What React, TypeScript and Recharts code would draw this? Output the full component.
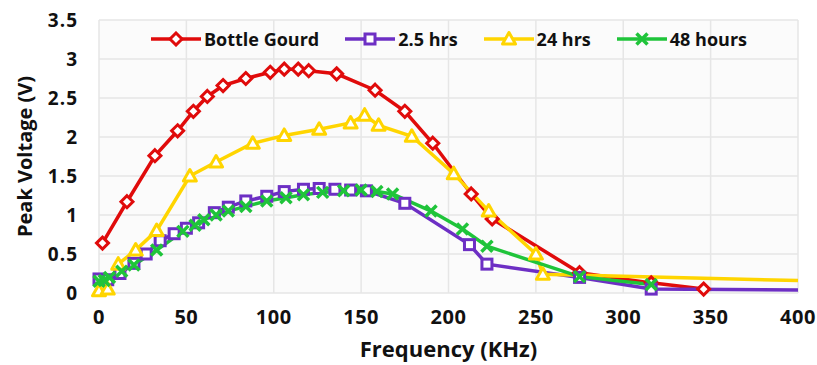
import {
  CartesianGrid,
  Label,
  Legend,
  Line,
  LineChart,
  XAxis,
  YAxis,
} from "recharts";

// frequency (KHz) and peak voltage (V)
const GOURD_FREQ = [2, 16, 32, 45, 54, 62, 71, 84, 98, 106, 114, 120, 136, 158, 175, 191, 213, 225, 275, 316, 346];
const GOURD_VOLT = [0.64, 1.17, 1.76, 2.08, 2.33, 2.52, 2.66, 2.75, 2.83, 2.87, 2.87, 2.85, 2.81, 2.6, 2.33, 1.92, 1.27, 0.95, 0.26, 0.13, 0.05];

const HRS25_FREQ = [0, 5, 12, 20, 27, 35, 43, 50, 57, 66, 74, 84, 96, 106, 117, 126, 135, 144, 153, 175, 212, 222, 275, 316, 400];
const HRS25_VOLT = [0.18, 0.17, 0.25, 0.38, 0.5, 0.67, 0.76, 0.83, 0.9, 1.03, 1.1, 1.18, 1.24, 1.3, 1.33, 1.34, 1.33, 1.32, 1.31, 1.15, 0.62, 0.37, 0.2, 0.05, 0.04];

const HRS24_FREQ = [0, 5, 11, 21, 33, 52, 67, 88, 106, 126, 144, 152, 160, 179, 203, 223, 250, 254, 400];
const HRS24_VOLT = [0.03, 0.05, 0.37, 0.55, 0.8, 1.5, 1.68, 1.92, 2.02, 2.1, 2.18, 2.28, 2.15, 2.01, 1.53, 1.05, 0.5, 0.24, 0.16];

const HRS48_FREQ = [0, 3, 6, 13, 20, 33, 48, 55, 60, 67, 74, 84, 96, 107, 117, 128, 140, 150, 159, 168, 190, 208, 222, 275, 316];
const HRS48_VOLT = [0.15, 0.16, 0.2, 0.28, 0.36, 0.55, 0.79, 0.87, 0.94, 1.0, 1.05, 1.11, 1.18, 1.22, 1.26, 1.29, 1.31, 1.32, 1.3, 1.27, 1.05, 0.82, 0.6, 0.21, 0.11];

const X_TICKS = [0, 50, 100, 150, 200, 250, 300, 350, 400];
const Y_TICKS = [0, 0.5, 1, 1.5, 2, 2.5, 3, 3.5];

const toPoints = (xs: number[], ys: number[]) => xs.map((x, i) => ({ x, y: ys[i] }));

// lastMarker: the excel lines that run out to 400 have no marker at their end
const SERIES = [
  { name: "Bottle Gourd", color: "#e00b0b", shape: "diamond", lastMarker: true, data: toPoints(GOURD_FREQ, GOURD_VOLT) },
  { name: "2.5 hrs", color: "#6d2fc4", shape: "square", lastMarker: false, data: toPoints(HRS25_FREQ, HRS25_VOLT) },
  { name: "24 hrs", color: "#ffd500", shape: "triangle", lastMarker: false, data: toPoints(HRS24_FREQ, HRS24_VOLT) },
  { name: "48 hours", color: "#1fc43a", shape: "cross", lastMarker: true, data: toPoints(HRS48_FREQ, HRS48_VOLT) },
];

const FONT = "'Open Sans', sans-serif";

function Marker({ shape, color, cx, cy }: { shape: string; color: string; cx: number; cy: number }) {
  if (shape === "diamond") {
    return (
      <path
        d={`M${cx},${cy - 6} L${cx + 6},${cy} L${cx},${cy + 6} L${cx - 6},${cy} Z`}
        fill="#fff"
        stroke={color}
        strokeWidth={3}
      />
    );
  }
  if (shape === "square") {
    return <rect x={cx - 5} y={cy - 5} width={10} height={10} fill="#fff" stroke={color} strokeWidth={3} />;
  }
  if (shape === "triangle") {
    return (
      <path
        d={`M${cx},${cy - 6.5} L${cx + 6.5},${cy + 5} L${cx - 6.5},${cy + 5} Z`}
        fill="#fff"
        stroke={color}
        strokeWidth={3}
        strokeLinejoin="round"
      />
    );
  }
  return (
    <path
      d={`M${cx - 5.5},${cy - 5.5} L${cx + 5.5},${cy + 5.5} M${cx + 5.5},${cy - 5.5} L${cx - 5.5},${cy + 5.5}`}
      stroke={color}
      strokeWidth={3.5}
    />
  );
}

const makeDot = (shape: string, color: string, count: number, lastMarker: boolean) => (props: any) => {
  const { cx, cy, index } = props;
  const key = `${shape}-${index}`;
  if (cx == null || cy == null) return <g key={key} />;
  if (!lastMarker && index === count - 1) return <g key={key} />;
  return (
    <g key={key}>
      <Marker shape={shape} color={color} cx={cx} cy={cy} />
    </g>
  );
};

function LegendRow() {
  return (
    <div style={{ display: "flex", alignItems: "center", fontFamily: FONT, fontWeight: 700, fontSize: 18, color: "#111" }}>
      {SERIES.map((s) => (
        <div key={s.name} style={{ display: "flex", alignItems: "center", marginRight: 26 }}>
          <svg width={50} height={16}>
            <line x1={0} y1={8} x2={50} y2={8} stroke={s.color} strokeWidth={3.5} />
            <Marker shape={s.shape} color={s.color} cx={25} cy={8} />
          </svg>
          <span style={{ marginLeft: 3 }}>{s.name}</span>
        </div>
      ))}
    </div>
  );
}

export default function App() {
  return (
    <div style={{ position: "absolute", left: 0, top: 0, background: "#fff" }}>
      <LineChart width={817} height={365} margin={{ top: 20, right: 19, left: 0, bottom: 0 }}>
        <CartesianGrid stroke="#e6e6e6" strokeWidth={1.5} fill="#fbfbfb" />
        <XAxis
          type="number"
          dataKey="x"
          domain={[0, 400]}
          ticks={X_TICKS}
          axisLine={false}
          tickLine={false}
          tickSize={0}
          tickMargin={17}
          height={72}
          tick={{ fontSize: 20, fontWeight: 700, fill: "#111", fontFamily: FONT, letterSpacing: 0.5 }}
        >
          <Label
            value="Frequency (KHz)"
            position="insideBottom"
            offset={8}
            style={{ fontSize: 22, fontWeight: 700, fill: "#111", fontFamily: FONT }}
          />
        </XAxis>
        <YAxis
          type="number"
          dataKey="y"
          domain={[0, 3.5]}
          ticks={Y_TICKS}
          axisLine={false}
          tickLine={false}
          tickSize={0}
          tickMargin={21}
          width={99}
          tick={{ fontSize: 19, fontWeight: 700, fill: "#111", fontFamily: FONT, letterSpacing: 1 }}
        >
          <Label
            content={({ viewBox }: any) => (
              <text
                x={24}
                y={viewBox.y + viewBox.height / 2}
                transform={`rotate(-90 24 ${viewBox.y + viewBox.height / 2})`}
                textAnchor="middle"
                dominantBaseline="central"
                style={{ fontSize: 20, fontWeight: 700, fill: "#111", fontFamily: FONT }}
              >
                Peak Voltage (V)
              </text>
            )}
          />
        </YAxis>
        <Legend
          layout="horizontal"
          verticalAlign="middle"
          align="center"
          wrapperStyle={{ top: 27, left: 151, width: 660 }}
          content={() => <LegendRow />}
        />
        {SERIES.map((s) => (
          <Line
            key={s.name}
            data={s.data}
            dataKey="y"
            name={s.name}
            type="linear"
            stroke={s.color}
            strokeWidth={3.5}
            dot={makeDot(s.shape, s.color, s.data.length, s.lastMarker)}
            activeDot={false}
            isAnimationActive={false}
          />
        ))}
      </LineChart>
    </div>
  );
}
